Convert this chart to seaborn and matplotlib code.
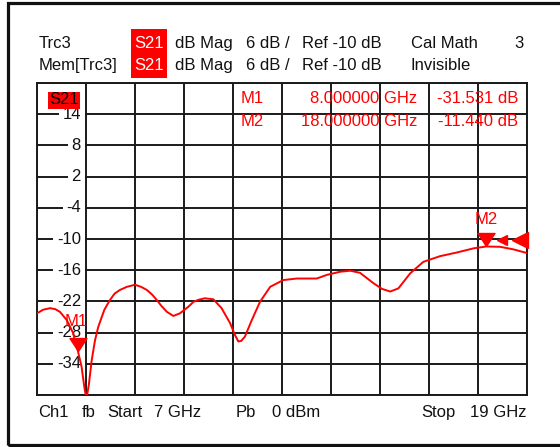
import matplotlib
matplotlib.use("Agg")
import matplotlib.pyplot as plt
import matplotlib.patches as mpatches
import matplotlib.transforms as mtransforms
import seaborn as sns
import pandas as pd

# ---------------- data ----------------
freq_ghz = [7.0, 7.15, 7.32, 7.45, 7.56, 7.73, 7.88, 8.0, 8.09, 8.16, 8.21, 8.27,
            8.34, 8.42, 8.5, 8.65, 8.79, 8.9, 9.03, 9.2, 9.40, 9.55, 9.69, 9.82,
            9.93, 10.05, 10.18, 10.34, 10.5, 10.71, 10.83, 10.95, 11.11, 11.32,
            11.52, 11.73, 11.85, 11.93, 12.0, 12.09, 12.26, 12.46, 12.71, 13.03,
            13.36, 13.85, 14.10, 14.42, 14.67, 14.91, 15.24, 15.45, 15.65, 15.85,
            16.14, 16.46, 16.87, 17.28, 17.69, 18.0, 18.34, 18.67, 19.0]
s21_db = [-24.3, -23.6, -23.3, -23.5, -24.0, -25.6, -28.0, -31.5, -34.5, -38.5,
          -40.8, -38.0, -33.3, -29.5, -26.9, -23.6, -21.7, -20.5, -19.8, -19.2,
          -18.8, -19.2, -19.8, -20.7, -21.7, -22.9, -24.0, -24.8, -24.3, -23.0,
          -22.1, -21.7, -21.4, -21.6, -23.3, -26.2, -28.5, -29.7, -29.6, -28.8,
          -25.6, -22.1, -19.2, -17.9, -17.6, -17.6, -16.9, -16.3, -16.1, -16.5,
          -18.5, -19.6, -20.1, -19.5, -16.6, -14.4, -13.3, -12.6, -11.8, -11.44,
          -11.5, -12.0, -12.7]

marker_names = ["M1", "M2"]
marker_freq = [8.0, 18.0]
marker_db = [-31.531, -11.440]
marker_freq_txt = ["8.000000 GHz", "18.000000 GHz"]
marker_db_txt = ["-31.531 dB", "-11.440 dB"]

offscreen_freq = [18.39, 18.83]
offscreen_db = [-10.2, -10.2]

ytick_vals = [14, 8, 2, -4, -10, -16, -22, -28, -34]
ytick_labels = ["14", "8", "2", "-4", "-10", "-16", "-22", "-28", "-34"]

f_start, f_stop = 7.0, 19.0
y_top, y_bot = 20.0, -40.0

header1 = ["Trc3", "dB Mag", "6 dB /", "Ref -10 dB", "Cal Math"]
header2 = ["Mem[Trc3]", "dB Mag", "6 dB /", "Ref -10 dB", "Invisible"]
footer = ["Ch1", "fb", "Start", "7 GHz", "Pb", "0 dBm", "Stop"]

# ---------------- style ----------------
sns.set_style("white")
plt.rcParams["font.family"] = ["Liberation Sans", "DejaVu Sans"]

W, H = 560, 447
fig = plt.figure(figsize=(W / 100, H / 100), dpi=100)

def fx(px):
    return px / W

def fy(py):
    return 1 - py / H

L, R, T, B = 37, 527, 83, 395
ax = fig.add_axes([fx(L), fy(B), fx(R) - fx(L), fy(T) - fy(B)])

df = pd.DataFrame({"f": freq_ghz, "db": s21_db})
sns.lineplot(data=df, x="f", y="db", ax=ax, color="#ff0000", lw=1.4,
             sort=False, zorder=5, estimator=None)

ax.set_xlim(f_start, f_stop)
ax.set_ylim(y_bot, y_top)
step_x = (f_stop - f_start) / 10
ax.set_xticks([f_start + step_x * k for k in range(11)])
ax.set_yticks([y_bot + 6 * k for k in range(11)])
ax.set_xticklabels([])
ax.set_yticklabels([])
ax.tick_params(length=0)
ax.set_xlabel("")
ax.set_ylabel("")
ax.grid(True, color="#1a1a1a", lw=1.4)
ax.set_axisbelow(True)
for sp in ax.spines.values():
    sp.set_color("#1a1a1a")
    sp.set_linewidth(1.4)
    sp.set_visible(True)

FS = 12
blend = mtransforms.blended_transform_factory(ax.transAxes, ax.transData)
xlab = (81 - L) / (R - L)
for v, lab in zip(ytick_vals, ytick_labels):
    ax.text(xlab, v, lab, transform=blend, ha="right", va="center", fontsize=FS,
            color="#111111", zorder=3,
            bbox=dict(boxstyle="square,pad=0.22", fc="white", ec="none"))

# S21 tag in plot
ax.text((64 - L) / (R - L), 1 - (100 - T) / (B - T), "S21", transform=ax.transAxes,
        ha="center", va="center", fontsize=FS, color="black", zorder=8,
        bbox=dict(boxstyle="square,pad=0.06", fc="#ff0000", ec="none"))

# markers (tip at data point)
tri_down = [(0, 0), (-8.5, 13), (8.5, 13), (0, 0)]
ax.plot(marker_freq, marker_db, linestyle="none", marker=tri_down, markersize=18.7,
        color="#ff0000", zorder=7, clip_on=False)
ax.text(marker_freq[0] - 0.04, marker_db[0] + 4.3, marker_names[0], color="#ff0000",
        fontsize=FS, ha="center", va="bottom", zorder=7)
ax.text(marker_freq[1], marker_db[1] + 3.7, marker_names[1], color="#ff0000",
        fontsize=FS, ha="center", va="bottom", zorder=7)
ax.plot(offscreen_freq[:1], offscreen_db[:1], linestyle="none", marker="<",
        markersize=7.5, color="#ff0000", zorder=7, clip_on=False)
ax.plot(offscreen_freq[1:], offscreen_db[1:], linestyle="none", marker="<",
        markersize=11, color="#ff0000", zorder=7, clip_on=False)

# marker table
row_y = [103.3, 126.0]
for i in range(2):
    fig.text(fx(241), fy(row_y[i]), marker_names[i], color="#ff0000", fontsize=FS,
             va="baseline", ha="left")
    fig.text(fx(417), fy(row_y[i]), marker_freq_txt[i], color="#ff0000", fontsize=FS,
             va="baseline", ha="right")
    fig.text(fx(518), fy(row_y[i]), marker_db_txt[i], color="#ff0000", fontsize=FS,
             va="baseline", ha="right")

# header
hx = [39, 175, 245.7, 302, 411]
for txts, by in ((header1, 48.3), (header2, 70.0)):
    for x, t in zip(hx, txts):
        fig.text(fx(x), fy(by), t, fontsize=FS, color="#111111", va="baseline", ha="left")
fig.text(fx(524), fy(48.3), "3", fontsize=FS, color="#111111", va="baseline", ha="right")
fig.add_artist(mpatches.Rectangle((fx(131), fy(78)), fx(167) - fx(131), (78 - 29) / H,
                                  transform=fig.transFigure, fc="#ff0000", ec="none"))
for by in (48.3, 70.0):
    fig.text(fx(149), fy(by), "S21", fontsize=FS, color="white", va="baseline",
             ha="center")

# footer
fxs = [38.3, 81.7, 107, 154, 236, 272, 421.7]
for x, t in zip(fxs, footer):
    fig.text(fx(x), fy(417), t, fontsize=FS, color="#111111", va="baseline", ha="left")
fig.text(fx(526), fy(417), "19 GHz", fontsize=FS, color="#111111", va="baseline",
         ha="right")

# outer frame
fig.add_artist(mpatches.Rectangle((fx(8.3), fy(445)), fx(600) - fx(8.3), (445 - 3.3) / H,
                                  transform=fig.transFigure, fill=False, ec="#111111",
                                  lw=2.3, clip_on=False))

fig.savefig("out.png", dpi=100)
